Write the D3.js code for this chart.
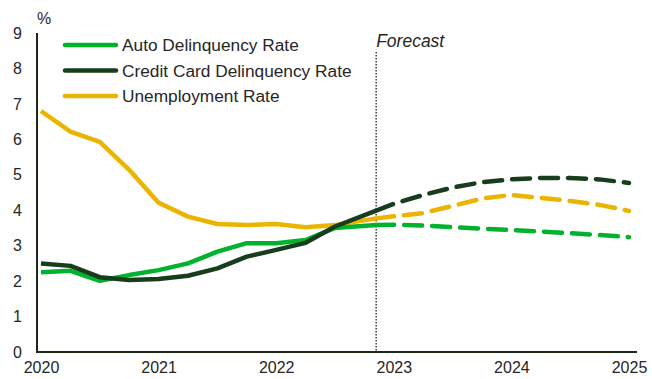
<!DOCTYPE html>
<html>
<head>
<meta charset="utf-8">
<script src="https://cdn.jsdelivr.net/npm/d3@7"></script>
<style>
  html, body { margin: 0; padding: 0; background: #fff; }
  svg { display: block; font-family: "Liberation Sans", Arial, sans-serif; }
</style>
</head>
<body>
<svg id="chart" width="652" height="379"></svg>
<script>
// Quarterly observations (decimal years), last point is the latest actual reading
const histDates = [2020, 2020.25, 2020.5, 2020.75, 2021, 2021.25, 2021.5, 2021.75, 2022, 2022.25, 2022.5, 2022.85];
const autoHist = [2.25, 2.29, 2.01, 2.17, 2.31, 2.50, 2.83, 3.07, 3.07, 3.16, 3.50, 3.58];
const cardHist = [2.50, 2.43, 2.11, 2.03, 2.06, 2.15, 2.36, 2.69, 2.88, 3.08, 3.54, 3.99];
const unempHist = [6.80, 6.22, 5.93, 5.14, 4.21, 3.82, 3.61, 3.58, 3.61, 3.52, 3.58, 3.77];

// Forecast path, starting from the last actual reading
const fcDates = [2022.85, 2023, 2023.25, 2023.5, 2023.75, 2024, 2024.25, 2024.5, 2024.75, 2025];
const autoFc = [3.58, 3.59, 3.57, 3.52, 3.48, 3.44, 3.40, 3.35, 3.30, 3.24];
const cardFc = [3.99, 4.18, 4.43, 4.64, 4.79, 4.87, 4.91, 4.91, 4.87, 4.77];
const unempFc = [3.77, 3.83, 3.92, 4.12, 4.33, 4.43, 4.35, 4.26, 4.15, 3.98];

const forecastStart = 2022.85;
const yearTicks = [2020, 2021, 2022, 2023, 2024, 2025];
const valueTicks = [0, 1, 2, 3, 4, 5, 6, 7, 8, 9];

const seriesNames = ["Auto Delinquency Rate", "Credit Card Delinquency Rate", "Unemployment Rate"];
const seriesColors = ["#00b22d", "#173d1d", "#ebb400"];

const svg = d3.select("#chart");
const x = d3.scaleLinear().domain([2020, 2025]).range([41, 629]);
const y = d3.scaleLinear().domain([0, 9]).range([352, 33]);

const textColor = "#262626";
const axisColor = "#1f2a16";

// Y axis tick labels
const yAxis = d3.axisLeft(y).tickValues(valueTicks).tickSize(0).tickPadding(0).tickFormat(d3.format("d"));
const gy = svg.append("g").attr("transform", "translate(22,0)").call(yAxis);
gy.select(".domain").remove();
gy.selectAll("text").attr("font-size", 16).attr("fill", textColor)
  .attr("font-family", "Liberation Sans, Arial, sans-serif");

svg.append("text").attr("x", 44).attr("y", 24).attr("text-anchor", "middle")
  .attr("font-size", 16).attr("fill", textColor).text("%");

// X axis tick labels
const xAxis = d3.axisBottom(x).tickValues(yearTicks).tickSize(0).tickPadding(0).tickFormat(d3.format("d"));
const gx = svg.append("g").attr("transform", "translate(0,362)").call(xAxis);
gx.select(".domain").remove();
gx.selectAll("text").attr("font-size", 16).attr("fill", textColor)
  .attr("font-family", "Liberation Sans, Arial, sans-serif");

// Forecast divider
svg.append("line")
  .attr("x1", x(forecastStart)).attr("x2", x(forecastStart))
  .attr("y1", 52).attr("y2", y(0))
  .attr("stroke", "#222").attr("stroke-width", 1.3).attr("stroke-dasharray", "1.5,1.5");
svg.append("text").attr("x", x(forecastStart)).attr("y", 47)
  .attr("font-size", 17.5).attr("font-style", "italic").attr("fill", textColor).text("Forecast");

// Series lines
const line = d3.line().x(d => x(d[0])).y(d => y(d[1]));
const hist = [autoHist, cardHist, unempHist];
const fc = [autoFc, cardFc, unempFc];
const order = [2, 0, 1];
order.forEach(i => {
  svg.append("path")
    .datum(d3.zip(fcDates, fc[i]))
    .attr("d", line).attr("fill", "none")
    .attr("stroke", seriesColors[i]).attr("stroke-width", 4.5)
    .attr("stroke-linecap", "round").attr("stroke-dasharray", "18,10");
});
order.forEach(i => {
  svg.append("path")
    .datum(d3.zip(histDates, hist[i]))
    .attr("d", line).attr("fill", "none")
    .attr("stroke", seriesColors[i]).attr("stroke-width", 4.5)
    .attr("stroke-linejoin", "round");
});

// Axis lines
svg.append("line").attr("x1", 37).attr("x2", 37).attr("y1", 33).attr("y2", 352)
  .attr("stroke", axisColor).attr("stroke-width", 2);
svg.append("line").attr("x1", 36).attr("x2", 637).attr("y1", 352).attr("y2", 352)
  .attr("stroke", axisColor).attr("stroke-width", 2);

// Legend
const legend = svg.append("g");
seriesNames.forEach((name, i) => {
  const ly = 45 + i * 25.5;
  legend.append("line").attr("x1", 65).attr("x2", 116).attr("y1", ly).attr("y2", ly)
    .attr("stroke", seriesColors[i]).attr("stroke-width", 4.5).attr("stroke-linecap", "round");
  legend.append("text").attr("x", 122).attr("y", ly + 6)
    .attr("font-size", 17.3).attr("fill", textColor).text(name);
});
</script>
</body>
</html>
